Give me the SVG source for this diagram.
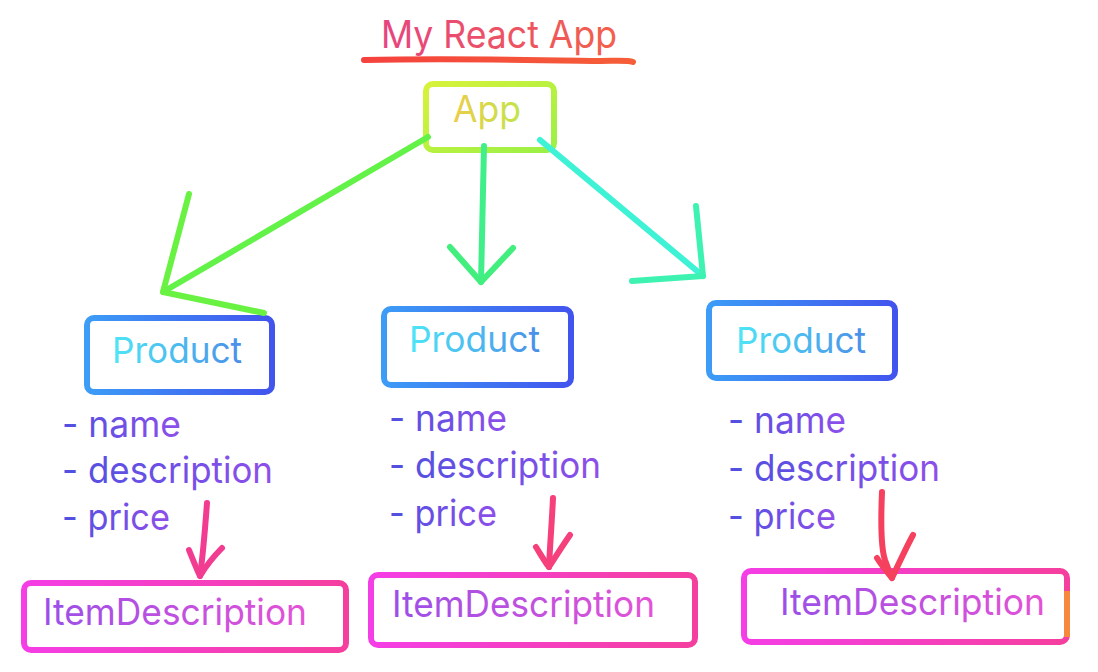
<svg xmlns="http://www.w3.org/2000/svg" width="1098" height="672" viewBox="0 0 1098 672">
  <defs>
    <linearGradient id="gTitle" x1="0" y1="0" x2="1" y2="0">
      <stop offset="0" stop-color="#e6447f"/>
      <stop offset="1" stop-color="#f2604c"/>
    </linearGradient>
    <linearGradient id="gUnder" x1="0" y1="0" x2="1" y2="0">
      <stop offset="0" stop-color="#f5423e"/>
      <stop offset="1" stop-color="#f55e38"/>
    </linearGradient>
    <linearGradient id="gApp" x1="0" y1="0" x2="1" y2="1">
      <stop offset="0" stop-color="#d8f23a"/>
      <stop offset="1" stop-color="#9af046"/>
    </linearGradient>
    <linearGradient id="gAppText" x1="0" y1="0" x2="1" y2="0">
      <stop offset="0" stop-color="#eccc4a"/>
      <stop offset="1" stop-color="#c2e44a"/>
    </linearGradient>
    <linearGradient id="gProd" x1="0" y1="0" x2="1" y2="0">
      <stop offset="0" stop-color="#3c9cf6"/>
      <stop offset="1" stop-color="#4254ee"/>
    </linearGradient>
    <linearGradient id="gProdText" x1="0" y1="0" x2="1" y2="0">
      <stop offset="0" stop-color="#4ee6f6"/>
      <stop offset="1" stop-color="#4a8ee8"/>
    </linearGradient>
    <linearGradient id="gList" x1="0" y1="0" x2="1" y2="0">
      <stop offset="0" stop-color="#4f50e0"/>
      <stop offset="1" stop-color="#8e4fea"/>
    </linearGradient>
    <linearGradient id="gItem" x1="0" y1="0" x2="1" y2="0">
      <stop offset="0" stop-color="#f43ee6"/>
      <stop offset="1" stop-color="#f53f9e"/>
    </linearGradient>
    <linearGradient id="gItemText" x1="0" y1="0" x2="1" y2="0">
      <stop offset="0" stop-color="#9a4fe8"/>
      <stop offset="1" stop-color="#e452d6"/>
    </linearGradient>
  </defs>
  <style>
    text { font-family: "Inter", "Liberation Sans", sans-serif; }
    .title { font-size: 38px; fill: url(#gTitle); }
    .box { fill: none; stroke-width: 6; }
    .app { stroke: url(#gApp); }
    .apptext { font-size: 37px; fill: url(#gAppText); }
    .prod { stroke: url(#gProd); }
    .prodtext { font-size: 36px; fill: url(#gProdText); }
    .list { font-size: 37px; fill: url(#gList); }
    .item { stroke: url(#gItem); }
    .itemtext { font-size: 37px; fill: url(#gItemText); }
    .conn { fill: none; stroke-width: 6; stroke-linecap: round; stroke-linejoin: round; }
  </style>
  <rect width="1098" height="672" fill="#ffffff"/>

  <g id="title">
    <text class="title" x="381" y="48" textLength="236" lengthAdjust="spacingAndGlyphs">My React App</text>
    <path d="M364 60 C450 58 540 60 600 61 C615 61 628 60 633 62" fill="none" stroke="url(#gUnder)" stroke-width="6" stroke-linecap="round"/>
  </g>

  <g id="app">
    <rect class="box app" x="426" y="84" width="128" height="66" rx="7"/>
    <text class="apptext" x="453" y="122" textLength="68" lengthAdjust="spacingAndGlyphs">App</text>
  </g>

  <g id="product-1">
    <rect class="box prod" x="87" y="318" width="185" height="74" rx="7"/>
    <text class="prodtext" x="112" y="363" textLength="130" lengthAdjust="spacingAndGlyphs">Product</text>
    <text class="list" x="62" y="437" textLength="119" lengthAdjust="spacingAndGlyphs">- name</text>
    <text class="list" x="62" y="483" textLength="211" lengthAdjust="spacingAndGlyphs">- description</text>
    <text class="list" x="62" y="530" textLength="108" lengthAdjust="spacingAndGlyphs">- price</text>
  </g>

  <g id="product-2">
    <rect class="box prod" x="384" y="309" width="187" height="76" rx="7"/>
    <text class="prodtext" x="409" y="352" textLength="131" lengthAdjust="spacingAndGlyphs">Product</text>
    <text class="list" x="389" y="431" textLength="118" lengthAdjust="spacingAndGlyphs">- name</text>
    <text class="list" x="389" y="478" textLength="212" lengthAdjust="spacingAndGlyphs">- description</text>
    <text class="list" x="389" y="526" textLength="108" lengthAdjust="spacingAndGlyphs">- price</text>
  </g>

  <g id="product-3">
    <rect class="box prod" x="709" y="303" width="186" height="75" rx="7"/>
    <text class="prodtext" x="736" y="353" textLength="130" lengthAdjust="spacingAndGlyphs">Product</text>
    <text class="list" x="728" y="433" textLength="118" lengthAdjust="spacingAndGlyphs">- name</text>
    <text class="list" x="728" y="481" textLength="212" lengthAdjust="spacingAndGlyphs">- description</text>
    <text class="list" x="728" y="529" textLength="108" lengthAdjust="spacingAndGlyphs">- price</text>
  </g>

  <g id="item-1">
    <rect class="box item" x="24" y="583" width="322" height="67" rx="7"/>
    <text class="itemtext" x="43" y="625" textLength="264" lengthAdjust="spacingAndGlyphs">ItemDescription</text>
  </g>

  <g id="item-2">
    <rect class="box item" x="371" y="575" width="324" height="70" rx="7"/>
    <text class="itemtext" x="392" y="617" textLength="263" lengthAdjust="spacingAndGlyphs">ItemDescription</text>
  </g>

  <g id="item-3">
    <rect class="box item" x="744" y="571" width="323" height="71" rx="7"/>
    <line x1="1067" y1="591" x2="1067" y2="637" stroke="#f58a3e" stroke-width="6"/>
    <text class="itemtext" x="780" y="615" textLength="265" lengthAdjust="spacingAndGlyphs">ItemDescription</text>
  </g>

  <g id="connectors">
    <path class="conn" stroke="#62f248" d="M428 137 L163 292"/>
    <path class="conn" stroke="#6af242" d="M189 194 L163 292 L264 313"/>
    <path class="conn" stroke="#40ef8a" d="M484 146 L481 282"/>
    <path class="conn" stroke="#42ef7e" d="M450 247 L481 282 L513 248"/>
    <path class="conn" stroke="#3ef2d6" d="M540 140 L703 276"/>
    <path class="conn" stroke="#3ef2b2" d="M696 206 L703 276 L632 281"/>
    <path class="conn" stroke="#f23c92" d="M207 503 C205 530 203 555 200 576"/>
    <path class="conn" stroke="#f23c92" d="M189 550 C193 560 197 570 200 576 C206 566 214 556 222 548"/>
    <path class="conn" stroke="#f5407c" d="M553 498 C552 520 550 545 549 567"/>
    <path class="conn" stroke="#f5407c" d="M536 547 C541 555 545 562 549 567 C556 556 563 545 570 535"/>
    <path class="conn" stroke="#f5405e" d="M882 492 C881 515 880 545 885 560 C888 568 890 574 892 578"/>
    <path class="conn" stroke="#f5405e" d="M877 558 C882 566 887 572 892 578 C899 563 906 548 913 535"/>
  </g>
</svg>
